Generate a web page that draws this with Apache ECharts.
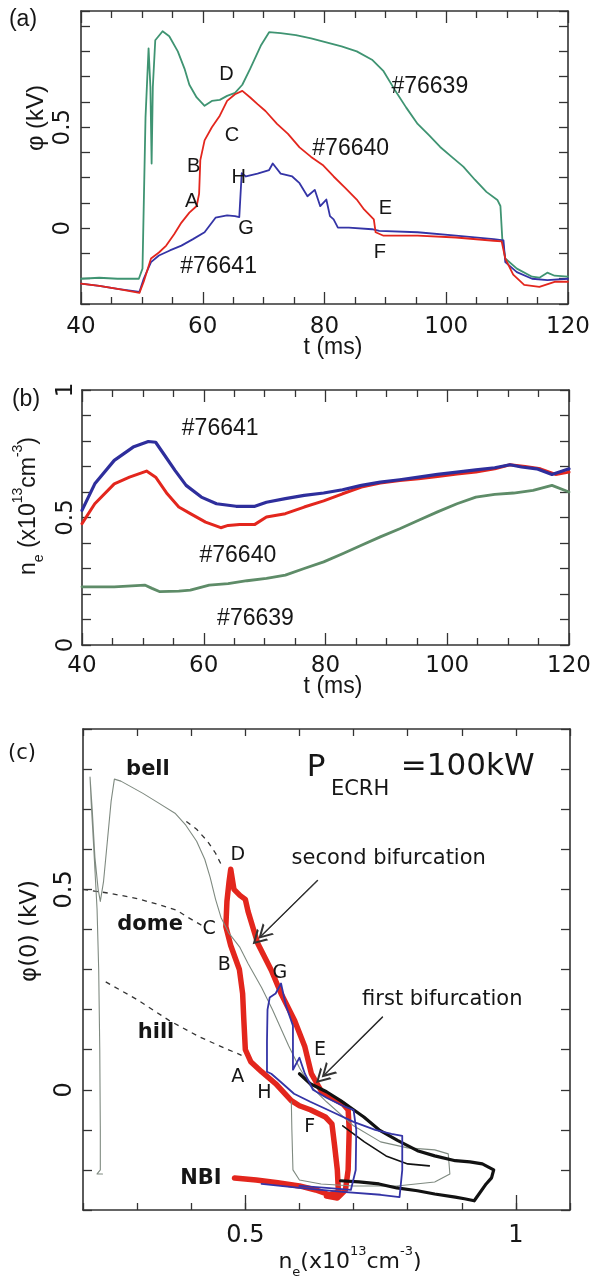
<!DOCTYPE html>
<html>
<head>
<meta charset="utf-8">
<script src="https://cdn.jsdelivr.net/npm/echarts@6/dist/echarts.min.js"></script>
<style>
html,body{margin:0;padding:0;background:#ffffff;}
#chart{width:595px;height:1282px;}
</style>
</head>
<body>
<div id="chart"></div>
<script>
// ---------------- DATA ----------------
// Panel (a): phi (kV) vs t (ms)
const aShot76639 = [[40,-0.25],[43,-0.245],[46,-0.25],[49.5,-0.25],[50.1,-0.2],[50.6,0.55],[51.1,0.89],[51.4,0.7],[51.6,0.32],[51.8,0.7],[52.2,0.93],[53.4,0.975],[54.5,0.95],[55.9,0.875],[57,0.79],[57.8,0.71],[59,0.647],[60.3,0.606],[61.5,0.63],[62.8,0.635],[64,0.655],[65.3,0.67],[66.5,0.71],[67.8,0.79],[69.6,0.907],[70.9,0.97],[72.8,0.965],[75.3,0.956],[77.8,0.94],[80.3,0.92],[82.8,0.9],[85.3,0.875],[87.8,0.834],[89.7,0.777],[91.5,0.687],[93.4,0.598],[95.3,0.516],[97.2,0.459],[99,0.402],[100.9,0.353],[102.8,0.305],[104.7,0.24],[106.6,0.18],[108.4,0.14],[108.9,0.11],[109.2,-0.05],[109.7,-0.15],[111.6,-0.2],[114.1,-0.24],[115.3,-0.245],[116.6,-0.22],[117.8,-0.235],[120,-0.24]];
const aShot76640 = [[40,-0.274],[43,-0.285],[46,-0.3],[49.6,-0.32],[50.3,-0.265],[51.5,-0.15],[52.8,-0.12],[54,-0.086],[55.3,-0.03],[56.5,0.028],[57.8,0.077],[59,0.11],[59.4,0.17],[59.6,0.337],[60.3,0.435],[61.5,0.5],[62.8,0.557],[64,0.63],[65.3,0.663],[66.5,0.68],[67.8,0.647],[69,0.614],[70.3,0.58],[72.2,0.516],[74,0.467],[75.9,0.4],[77.8,0.353],[79.7,0.313],[81.5,0.256],[83.4,0.2],[85.3,0.142],[86.5,0.093],[88.1,0.044],[88.4,-0.02],[89.7,-0.037],[95.3,-0.037],[101.6,-0.046],[107.8,-0.062],[109.1,-0.065],[109.7,-0.15],[111,-0.23],[112.8,-0.28],[115.3,-0.29],[117.8,-0.265],[120,-0.265]];
const aShot76641 = [[40,-0.274],[43,-0.285],[46,-0.3],[49.6,-0.315],[50.3,-0.25],[51.5,-0.168],[52.8,-0.135],[54.6,-0.11],[56.5,-0.086],[58.4,-0.054],[60.3,-0.02],[62.1,0.052],[64,0.064],[65.3,0.06],[66,0.055],[66.4,0.272],[67.1,0.256],[69,0.27],[70.9,0.288],[71.5,0.32],[72.8,0.27],[74.7,0.256],[75.9,0.223],[77.2,0.158],[78.4,0.19],[79.3,0.109],[80.3,0.142],[80.9,0.06],[81.5,0.044],[82.2,0.003],[84,0.003],[87.8,-0.005],[89,-0.013],[95.3,-0.02],[101.6,-0.037],[107.8,-0.054],[109.4,-0.06],[109.7,-0.168],[111.6,-0.217],[114.1,-0.25],[116.6,-0.257],[120,-0.25]];
const aLetters = [['D',63.9,0.76],['C',64.8,0.46],['B',58.5,0.305],['A',58.2,0.134],['H',65.9,0.25],['G',67.1,0.0],['E',90.0,0.096],['F',89.1,-0.12]];
const aShotLabels = [['#76639',97.3,0.70],['#76640',84.3,0.394],['#76641',62.6,-0.19]];
const aXTicks = [40,60,80,100,120];
const aYLabels = [0,0.5];

// Panel (b): n_e vs t
const bShot76641 = [[40,0.528],[42.1,0.632],[45.3,0.724],[48.4,0.776],[50.9,0.798],[52.1,0.795],[53.4,0.75],[55.3,0.684],[57.1,0.626],[59.6,0.58],[62.1,0.554],[65.3,0.544],[68.4,0.544],[70.3,0.56],[73.4,0.574],[76.5,0.587],[79.7,0.596],[82.8,0.609],[85.9,0.626],[89,0.639],[92.2,0.648],[95.3,0.658],[98.4,0.669],[101.6,0.678],[104.7,0.687],[107.8,0.695],[110.3,0.707],[112.2,0.698],[114.7,0.691],[117.2,0.669],[120,0.691]];
const bShot76640 = [[40,0.476],[42.1,0.554],[45.3,0.632],[47.8,0.658],[50.6,0.682],[52.1,0.658],[54,0.593],[55.9,0.541],[57.8,0.515],[60.3,0.482],[62.8,0.46],[64,0.469],[65.9,0.473],[68.4,0.473],[70.3,0.502],[73.4,0.515],[76.5,0.541],[79.7,0.565],[82.8,0.593],[85.9,0.619],[89,0.635],[92.2,0.645],[95.3,0.652],[98.4,0.661],[101.6,0.671],[104.7,0.678],[107.8,0.691],[110.3,0.707],[112.8,0.7],[115.3,0.691],[117.8,0.669],[120,0.678]];
const bShot76639 = [[40,0.228],[45.3,0.228],[50.3,0.235],[51.5,0.222],[52.8,0.209],[55.9,0.211],[57.8,0.215],[60.9,0.235],[64,0.241],[67.1,0.252],[70.3,0.261],[73.4,0.274],[76.5,0.3],[79.7,0.326],[82.8,0.358],[85.9,0.391],[89,0.424],[92.2,0.456],[95.3,0.489],[98.4,0.522],[101.6,0.554],[104.7,0.58],[107.8,0.591],[110.9,0.596],[114.1,0.606],[117.2,0.626],[120,0.6]];
const bShotLabels = [['#76641',62.7,0.847],['#76640',65.6,0.352],['#76639',68.5,0.104]];
const bYLabels = [0,0.5,1];

// Panel (c): phi(0) vs n_e
const cGray = [[0.236,-0.21],[0.226,-0.21],[0.232,-0.2],[0.232,-0.1],[0.231,0.1],[0.229,0.3],[0.226,0.45],[0.22,0.6],[0.215,0.72],[0.213,0.78],[0.217,0.7],[0.222,0.58],[0.228,0.5],[0.232,0.47],[0.238,0.52],[0.245,0.62],[0.252,0.72],[0.258,0.775],[0.27,0.77],[0.29,0.755],[0.31,0.74],[0.34,0.715],[0.37,0.69],[0.39,0.66],[0.41,0.62],[0.425,0.575],[0.435,0.53],[0.445,0.475],[0.455,0.43],[0.47,0.39],[0.49,0.355],[0.505,0.315],[0.53,0.255],[0.55,0.2],[0.58,0.11],[0.6,0.055],[0.62,0.01],[0.65,-0.03],[0.7,-0.09],[0.75,-0.13],[0.8,-0.145],[0.85,-0.15],[0.875,-0.16],[0.878,-0.21],[0.85,-0.23],[0.78,-0.24],[0.7,-0.24],[0.64,-0.235],[0.6,-0.225],[0.588,-0.2],[0.586,-0.1],[0.585,-0.03]];
const cRed = [[0.48,-0.22],[0.52,-0.225],[0.56,-0.232],[0.6,-0.24],[0.63,-0.25],[0.655,-0.262],[0.672,-0.255],[0.67,-0.2],[0.665,-0.14],[0.66,-0.085],[0.648,-0.068],[0.62,-0.05],[0.6,-0.04],[0.585,-0.027],[0.556,0.015],[0.53,0.045],[0.51,0.07],[0.5,0.1],[0.497,0.18],[0.495,0.24],[0.489,0.3],[0.473,0.36],[0.464,0.407],[0.466,0.47],[0.47,0.52],[0.473,0.55],[0.479,0.5],[0.49,0.485],[0.5,0.475],[0.505,0.445],[0.523,0.365],[0.548,0.298],[0.566,0.24],[0.591,0.173],[0.61,0.107],[0.622,0.04],[0.641,-0.005],[0.66,-0.02],[0.68,-0.035],[0.69,-0.05],[0.692,-0.1],[0.69,-0.2],[0.685,-0.25],[0.67,-0.27],[0.65,-0.265]];
const cBlue = [[0.53,-0.235],[0.6,-0.245],[0.68,-0.255],[0.75,-0.262],[0.785,-0.268],[0.79,-0.2],[0.79,-0.115],[0.77,-0.11],[0.74,-0.1],[0.7,-0.08],[0.66,-0.055],[0.62,-0.03],[0.59,-0.01],[0.565,0.02],[0.548,0.04],[0.54,0.045],[0.54,0.12],[0.541,0.2],[0.545,0.23],[0.556,0.24],[0.566,0.265],[0.575,0.21],[0.588,0.16],[0.588,0.05],[0.6,0.08],[0.61,0.04],[0.625,0.0],[0.65,-0.02],[0.68,-0.04],[0.7,-0.05],[0.705,-0.1],[0.704,-0.2],[0.695,-0.25],[0.65,-0.245],[0.6,-0.24]];
const cBlack = [[0.6,0.04],[0.62,0.015],[0.65,-0.005],[0.676,-0.027],[0.7,-0.05],[0.719,-0.068],[0.747,-0.1],[0.782,-0.127],[0.818,-0.152],[0.85,-0.165],[0.888,-0.177],[0.915,-0.18],[0.938,-0.185],[0.959,-0.2],[0.955,-0.22],[0.945,-0.235],[0.923,-0.277],[0.905,-0.272],[0.888,-0.268],[0.85,-0.26],[0.818,-0.252],[0.78,-0.245],[0.747,-0.235],[0.71,-0.23],[0.676,-0.227]];
const cBlack2 = [[0.68,-0.09],[0.72,-0.13],[0.76,-0.165],[0.8,-0.185],[0.84,-0.19]];
const cDashBell = [[0.391,0.669],[0.41,0.65],[0.43,0.62],[0.445,0.59],[0.456,0.56]];
const cDashDome = [[0.2,0.5],[0.25,0.49],[0.3,0.477],[0.34,0.462],[0.373,0.448],[0.394,0.43],[0.426,0.405]];
const cDashHill = [[0.242,0.269],[0.3,0.225],[0.359,0.173],[0.415,0.132],[0.46,0.105],[0.493,0.086]];
const cArrowSecond = [[0.634,0.523],[0.528,0.382]];
const cArrowFirst = [[0.754,0.182],[0.645,0.036]];
const cLetters = [['D',0.486,0.586],['C',0.433,0.4],['B',0.461,0.311],['G',0.564,0.29],['E',0.638,0.1],['A',0.486,0.032],['H',0.535,-0.008],['F',0.619,-0.093]];
const cRegimes = [['bell',0.32,0.798],['dome',0.324,0.411],['hill',0.335,0.142],['NBI',0.418,-0.222]];
const cNotes = [['second bifurcation',0.765,0.578],['first bifurcation',0.864,0.225]];
const cPower = [['P',0.631,0.803],['=100kW',0.911,0.805]];
const cPowerSub = [['ECRH',0.712,0.748]];
const cXLabels = [0.5,1];
const cYLabels = [0,0.5];

// ---------------- STYLE ----------------
const AX = '#333333';
const TICKF = 'DejaVu Sans';
const TXTF = 'Liberation Sans';
const INK = '#161616';
const GREEN = '#3f9472';
const RED = '#e3261d';
const BLUE = '#3434a6';

function near(v, list) {
  for (const t of list) if (Math.abs(v - t) < 1e-6) return String(t);
  return '';
}

function axis(o) {
  const a = {
    type: 'value', gridIndex: o.grid, position: o.pos, min: o.min, max: o.max, interval: o.interval,
    axisLine: {show: o.line !== false, onZero: false, lineStyle: {color: AX, width: 1.6}},
    axisTick: {show: true, inside: true, length: o.tickLen || 8, lineStyle: {color: AX, width: 1.3}},
    splitLine: {show: false},
    minorSplitLine: {show: false},
    axisLabel: o.fmt ? {show: true, formatter: o.fmt, fontFamily: TICKF, fontSize: o.fs || 23,
      color: INK, margin: o.margin, rotate: o.rotate || 0} : {show: false}
  };
  if (o.custom) a.axisTick.customValues = o.custom;
  if (o.minor) a.minorTick = {show: true, splitNumber: o.minor, length: o.minorLen || 7, lineStyle: {color: AX, width: 1.3}};
  return a;
}

const xAxes = [
  axis({grid:0,pos:'bottom',min:40,max:120,interval:20,minor:4,tickLen:12,fmt:v=>near(v,aXTicks),margin:12}),
  axis({grid:0,pos:'top',min:40,max:120,interval:20,minor:4,tickLen:12}),
  axis({grid:1,pos:'bottom',min:40,max:120,interval:20,minor:4,tickLen:12,fmt:v=>near(v,aXTicks),margin:10}),
  axis({grid:1,pos:'top',min:40,max:120,interval:20,minor:4,tickLen:12}),
  axis({grid:2,pos:'bottom',min:0.2,max:1.1,interval:0.1,tickLen:7,fmt:v=>near(v,cXLabels),margin:14,fs:24}),
  axis({grid:2,pos:'top',min:0.2,max:1.1,interval:0.1,tickLen:7}),
  axis({grid:2,pos:'bottom',min:0.2,max:1.1,interval:0.1,tickLen:15,line:false,custom:cXLabels})
];
const yAxes = [
  axis({grid:0,pos:'left',min:-0.375,max:1.075,interval:0.125,tickLen:9,fmt:v=>near(v,aYLabels),rotate:90,margin:6}),
  axis({grid:0,pos:'right',min:-0.375,max:1.075,interval:0.125,tickLen:9}),
  axis({grid:1,pos:'left',min:0,max:1,interval:0.1,tickLen:9,fmt:v=>near(v,bYLabels),rotate:90,margin:4}),
  axis({grid:1,pos:'right',min:0,max:1,interval:0.1,tickLen:9}),
  axis({grid:2,pos:'left',min:-0.3,max:0.9,interval:0.1,tickLen:9,fmt:v=>near(v,cYLabels),rotate:90,margin:6,fs:24}),
  axis({grid:2,pos:'right',min:-0.3,max:0.9,interval:0.1,tickLen:9})
];

function line(data, xi, yi, color, width, extra) {
  return Object.assign({
    type: 'line', xAxisIndex: xi, yAxisIndex: yi, data: data, showSymbol: false, symbol: 'none',
    silent: true, animation: false,
    lineStyle: {color: color, width: width, cap: 'round', join: 'round'}
  }, extra || {});
}

function texts(arr, xi, yi, style) {
  return {
    type: 'scatter', xAxisIndex: xi, yAxisIndex: yi, symbolSize: 1, silent: true, animation: false, z: 20,
    itemStyle: {color: 'rgba(0,0,0,0)', opacity: 1},
    data: arr.map(d => ({name: d[0], value: [d[1], d[2]]})),
    label: Object.assign({show: true, position: 'inside', formatter: p => p.name, color: INK,
      opacity: 1, textBorderWidth: 0}, style)
  };
}

const CHEV = 'path://M10,0 L20,14 L17,14 L10,4 L3,14 L0,14 Z M10,8 L20,22 L17,22 L10,12 L3,22 L0,22 Z';
function arrow(pts, xi, yi) {
  return {
    type: 'line', xAxisIndex: xi, yAxisIndex: yi, data: pts, showSymbol: false, symbol: 'none',
    silent: true, animation: false, lineStyle: {color: '#333', width: 1.2},
    markLine: {silent: true, animation: false, symbol: ['none', CHEV], symbolSize: [16, 22],
      label: {show: false}, lineStyle: {color: '#333', width: 1.2, type: 'solid'},
      data: [[{coord: pts[0]}, {coord: pts[1]}]]}
  };
}

const dashed = {lineStyle: {color: '#333', width: 1.3, type: [5, 5]}};

const series = [
  // panel a
  line(aShot76639, 0, 0, GREEN, 1.8),
  line(aShot76641, 0, 0, BLUE, 1.8),
  line(aShot76640, 0, 0, RED, 1.8),
  texts(aLetters, 0, 0, {fontFamily: TXTF, fontSize: 20}),
  texts(aShotLabels, 0, 0, {fontFamily: TXTF, fontSize: 23}),
  // panel b
  line(bShot76639, 2, 2, '#5e8c68', 2.8),
  line(bShot76640, 2, 2, RED, 3.0),
  line(bShot76641, 2, 2, '#2e2e9c', 3.2),
  texts(bShotLabels, 2, 2, {fontFamily: TXTF, fontSize: 23}),
  // panel c
  line(cDashBell, 4, 4, '#333', 1.3, dashed),
  line(cDashDome, 4, 4, '#333', 1.3, dashed),
  line(cDashHill, 4, 4, '#333', 1.3, dashed),
  line(cRed, 4, 4, RED, 5.5, {z: 2}),
  line(cGray, 4, 4, '#7f8a80', 1.1, {z: 3}),
  line(cBlack, 4, 4, '#121212', 3.2, {z: 3}),
  line(cBlack2, 4, 4, '#121212', 1.6, {z: 3}),
  line(cBlue, 4, 4, BLUE, 1.8, {z: 4}),
  arrow(cArrowSecond, 4, 4),
  arrow(cArrowFirst, 4, 4),
  texts(cLetters, 4, 4, {fontFamily: TICKF, fontSize: 19}),
  texts(cRegimes, 4, 4, {fontFamily: TICKF, fontSize: 21, fontWeight: 'bold'}),
  texts(cNotes, 4, 4, {fontFamily: TICKF, fontSize: 21}),
  texts(cPower, 4, 4, {fontFamily: TICKF, fontSize: 31}),
  texts(cPowerSub, 4, 4, {fontFamily: TICKF, fontSize: 21})
];

function gtext(x, y, text, size, family, rot, rich) {
  const st = {text: text, fontSize: size, fontFamily: family, fill: INK, align: 'center', verticalAlign: 'middle'};
  if (rich) st.rich = rich;
  return {type: 'text', x: x, y: y, rotation: rot || 0, silent: true, style: st};
}
const richNe = (size, fam) => ({
  m: {fontSize: size, fontFamily: fam, fill: INK, lineHeight: size + 12, verticalAlign: 'middle'},
  s: {fontSize: Math.round(size * 0.6), fontFamily: fam, fill: INK, lineHeight: Math.round(size * 0.6), verticalAlign: 'bottom'},
  p: {fontSize: Math.round(size * 0.6), fontFamily: fam, fill: INK, lineHeight: Math.round(size * 0.6), verticalAlign: 'top'}
});

const graphic = [
  gtext(23, 20, '(a)', 23, TXTF),
  gtext(26, 400, '(b)', 23, TXTF),
  gtext(22, 754, '(c)', 21, TICKF),
  gtext(36, 118, 'φ (kV)', 24, TXTF, Math.PI / 2),
  gtext(333, 348, 't (ms)', 23, TXTF),
  gtext(333, 687, 't (ms)', 23, TXTF),
  gtext(29, 506, '{m|n}{s|e}{m| (x10}{p|13}{m|cm}{p|-3}{m|)}', 23, TXTF, Math.PI / 2, richNe(23, TXTF)),
  gtext(30, 931, 'φ(0) (kV)', 23, TICKF, Math.PI / 2),
  gtext(350, 1262, '{m|n}{s|e}{m|(x10}{p|13}{m|cm}{p|-3}{m|)}', 22, TICKF, 0, richNe(22, TICKF))
];

const chart = echarts.init(document.getElementById('chart'), null, {renderer: 'canvas'});
chart.setOption({
  animation: false,
  backgroundColor: '#ffffff',
  grid: [
    {left: 81, top: 11, width: 487, height: 293, outerBoundsMode: 'none', containLabel: false},
    {left: 82, top: 390, width: 487, height: 255, outerBoundsMode: 'none', containLabel: false},
    {left: 83, top: 729, width: 487, height: 481, outerBoundsMode: 'none', containLabel: false}
  ],
  xAxis: xAxes,
  yAxis: yAxes,
  series: series,
  graphic: graphic
});
</script>
</body>
</html>
